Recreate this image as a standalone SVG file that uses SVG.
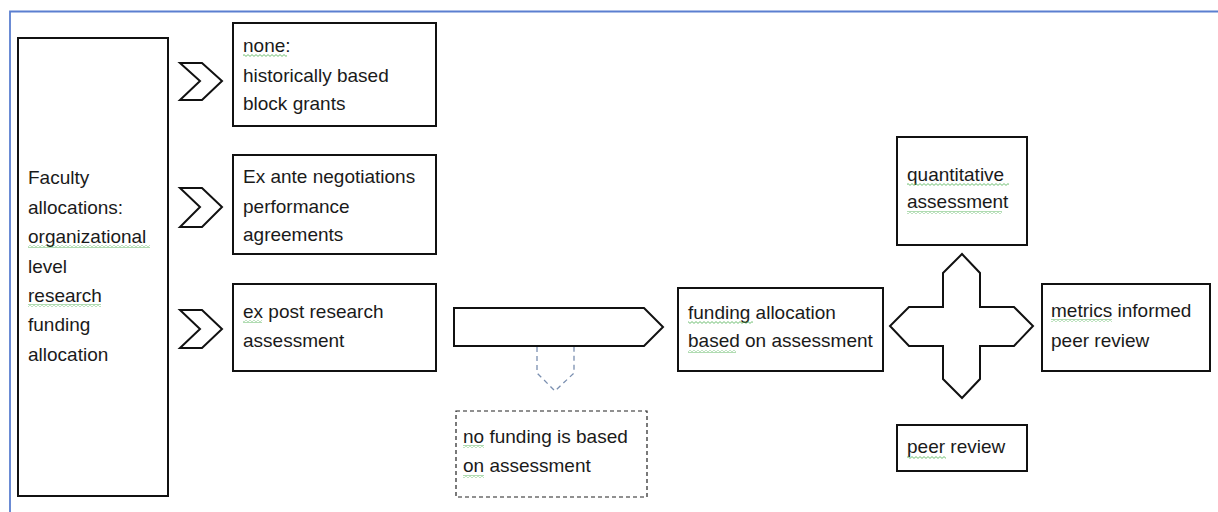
<svg xmlns="http://www.w3.org/2000/svg" width="1218" height="512" viewBox="0 0 1218 512">
<defs>
<pattern id="sq" x="0" y="0" width="4" height="3" patternUnits="userSpaceOnUse">
<path d="M0,0.6 L2,2.4 L4,0.6" fill="none" stroke="#4caf50" stroke-width="0.8"/>
</pattern>
</defs>
<style>
.box{fill:#fff;stroke:#111;stroke-width:2}
.dash{fill:#fff;stroke:#222;stroke-width:1.2;stroke-dasharray:4 3}
.shape{fill:#fff;stroke:#111;stroke-width:2;stroke-linejoin:miter}
.dshape{fill:none;stroke:#7a8fb0;stroke-width:1.3;stroke-dasharray:5 4}
text{font-family:"Liberation Sans",Arial,sans-serif;font-size:19px;fill:#1a1a1a}
.sq{fill:url(#sq)}
</style>
<rect width="1218" height="512" fill="#fff"/>
<path d="M10,512 V11.5 H1218" fill="none" stroke="#5b7fd0" stroke-width="1.8"/>

<g id="faculty">
<rect class="box" x="18" y="38" width="150" height="458"/>
<text x="28" y="184">Faculty</text>
<text x="28" y="214">allocations:</text>
<text x="28" y="243">organizational</text>
<text x="28" y="273">level</text>
<text x="28" y="302">research</text>
<text x="28" y="331">funding</text>
<text x="28" y="361">allocation</text>
<rect class="sq" x="28" y="245" width="122" height="3"/>
<rect class="sq" x="28" y="304" width="73" height="3"/>
</g>

<g id="none">
<rect class="box" x="233" y="23" width="203" height="103"/>
<text x="243" y="52">none:</text>
<text x="243" y="82">historically based</text>
<text x="243" y="110">block grants</text>
<rect class="sq" x="243" y="54" width="44" height="3"/>
</g>

<g id="exante">
<rect class="box" x="233" y="155" width="203" height="99"/>
<text x="243" y="183">Ex ante negotiations</text>
<text x="243" y="213">performance</text>
<text x="243" y="241">agreements</text>
</g>

<g id="expost">
<rect class="box" x="233" y="284" width="203" height="87"/>
<text x="243" y="318">ex post research</text>
<text x="243" y="347">assessment</text>
<rect class="sq" x="243" y="320" width="19" height="3"/>
</g>

<g id="nofunding">
<rect class="dash" x="456" y="411" width="191" height="86"/>
<text x="463" y="443">no funding is based</text>
<text x="463" y="472">on assessment</text>
<rect class="sq" x="463" y="445" width="21" height="3"/>
<rect class="sq" x="463" y="475" width="21" height="3"/>
</g>

<g id="fundingalloc">
<rect class="box" x="678" y="288" width="205" height="83"/>
<text x="688" y="319">funding allocation</text>
<text x="688" y="347">based on assessment</text>
<rect class="sq" x="688" y="321" width="65" height="3"/>
<rect class="sq" x="688" y="350" width="48" height="3"/>
</g>

<g id="quantitative">
<rect class="box" x="897" y="137" width="130" height="108"/>
<text x="907" y="181">quantitative</text>
<text x="907" y="208">assessment</text>
<rect class="sq" x="907" y="183" width="102" height="3"/>
<rect class="sq" x="907" y="211" width="95" height="3"/>
</g>

<g id="metrics">
<rect class="box" x="1042" y="284" width="168" height="87"/>
<text x="1051" y="317">metrics informed</text>
<text x="1051" y="347">peer review</text>
<rect class="sq" x="1051" y="319" width="61" height="3"/>
</g>

<g id="peerreview">
<rect class="box" x="897" y="425" width="130" height="46"/>
<text x="907" y="453">peer review</text>
<rect class="sq" x="907" y="456" width="39" height="3"/>
</g>

<g id="connectors">
<polygon class="shape" points="180,63 202,63 222,81 202,100 180,100 200,81"/>
<polygon class="shape" points="180,188 202,188 222,207 202,227 180,227 200,207"/>
<polygon class="shape" points="180,310 202,310 222,329 202,348 180,348 200,329"/>
<polygon class="shape" points="454,308 644,308 663,327 644,346 454,346"/>
<polyline class="dshape" points="537,347 537,373 555,391 574,373 574,347"/>
<polygon class="shape" points="943,273 962,254 980,273 980,307 1014,307 1033,326 1014,346 980,346 980,379 962,398 943,379 943,346 909,346 890,326 909,307 943,307"/>
</g>
</svg>
